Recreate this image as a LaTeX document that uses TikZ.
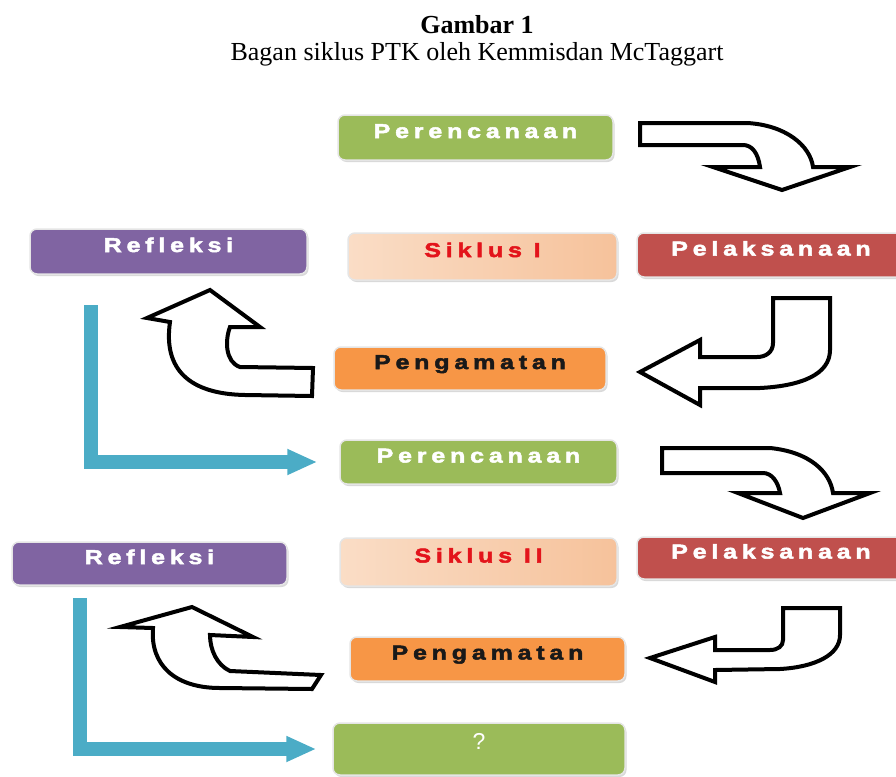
\documentclass[tikz,border=0pt]{standalone}
\usepackage{fontspec}
\setmainfont{Liberation Serif}
\newfontfamily\btnfont[LetterSpace=24,FakeBold=2.5,FakeStretch=1.25]{Liberation Sans}
\newfontfamily\polos{Liberation Sans}
\usepackage{tikz}
\usetikzlibrary{positioning,shadows,arrows.meta}

\definecolor{hijau}{HTML}{9BBB59}
\definecolor{ungu}{HTML}{8064A2}
\definecolor{merah}{HTML}{C0504D}
\definecolor{oranye}{HTML}{F79646}
\definecolor{birul}{HTML}{4BACC6}
\definecolor{krem}{HTML}{FADDC6}
\definecolor{krem2}{HTML}{F6C29B}
\definecolor{teksmerah}{HTML}{E3141B}

\tikzset{
  kotak/.style={rounded corners=7pt, minimum width=275pt, minimum height=45pt, inner sep=0pt,
    draw=black!10, line width=1.5pt, text=white, text height=15pt, text depth=14pt,
    drop shadow={shadow xshift=1.5pt, shadow yshift=-2pt, opacity=.3},
    font=\btnfont\bfseries\fontsize{20}{20}\selectfont},
  panah/.style={draw=black, fill=white, line width=4pt, line join=miter},
  biru/.style={draw=birul, line width=14pt, -{Triangle[length=30pt,width=24pt]}}
}

\begin{document}
\begin{tikzpicture}[x=1pt,y=-1pt]
  \useasboundingbox (0,0) rectangle (896,776);

  \node[anchor=base, font=\fontsize{26}{30}\selectfont\bfseries] (judul) at (477,34) {Gambar 1};
  \node[anchor=base, font=\fontsize{26}{30}\selectfont] (sub) at (477,60) {Bagan siklus PTK oleh Kemmisdan McTaggart};

  % siklus I
  \node[kotak, fill=hijau] (p1) at (475.5,137.5) {Perencanaan};
  \node[kotak, fill=ungu, minimum width=277pt] (r1) at (168.5,251.5) {Refleksi};
  \node[kotak, left color=krem, right color=krem2, text=teksmerah, minimum width=269pt, minimum height=47pt] (s1) at (482.5,256.5) {Siklus I};
  \node[kotak, fill=merah, minimum width=268pt, minimum height=44pt] (l1) at (771,255) {Pelaksanaan};
  \node[kotak, fill=oranye, text=black!90, minimum width=272pt, minimum height=43pt] (g1) at (470,368.5) {Pengamatan};

  % siklus II
  \node[kotak, fill=hijau, minimum width=277pt, minimum height=44pt] (p2) at (478.5,462) {Perencanaan};
  \node[kotak, fill=ungu, minimum height=43pt] (r2) at (149.5,563.5) {Refleksi};
  \node[kotak, left color=krem, right color=krem2, text=teksmerah, minimum width=277pt, minimum height=48pt] (s2) at (478.5,562) {Siklus II};
  \node[kotak, fill=merah, minimum width=268pt, minimum height=42pt] (l2) at (771,558) {Pelaksanaan};
  \node[kotak, fill=oranye, text=black!90, minimum height=44pt] (g2) at (487.5,659) {Pengamatan};
  \node[kotak, fill=hijau, minimum width=292pt, minimum height=52pt, font=\polos\fontsize{23}{23}\selectfont] (q) at (479,749) {?};

  % panah blok
  \draw[panah] (640,123) -- (747,123) .. controls (785,125) and (810,145) .. (813,167) -- (850,167)
    -- (782,190) -- (713,167) -- (760,167) .. controls (758,153) and (752,145) .. (743,145) -- (640,145) -- cycle;
  \draw[panah] (773,298) -- (773,343) .. controls (773,352) and (766,357) .. (757,357) -- (700,357) -- (700,340)
    -- (640,372) -- (700,405) -- (700,388) -- (760,388) .. controls (800,386) and (830,375) .. (830,350) -- (830,298) -- cycle;
  \draw[panah] (313,368) -- (240,367) .. controls (225,362) and (225,340) .. (230,327) -- (260,327)
    -- (210,290) -- (147,318) -- (170,322) .. controls (163,370) and (190,394) .. (245,395) -- (312,396) -- cycle;

  \draw[panah] (662,448) -- (770,448) .. controls (810,452) and (830,472) .. (833,493) -- (870,493)
    -- (803,518) -- (738,493) -- (780,493) .. controls (778,482) and (772,473) .. (763,473) -- (662,473) -- cycle;
  \draw[panah] (783,608) -- (783,640) .. controls (783,646) and (778,650) .. (770,650) -- (715,650) -- (715,637)
    -- (650,658) -- (715,682) -- (715,670) -- (780,669) .. controls (815,667) and (840,655) .. (840,635) -- (840,608) -- cycle;
  \draw[panah] (321,675) -- (230,671) .. controls (217,665) and (210,650) .. (210,635) -- (253,637)
    -- (192,607) -- (120,627) -- (153,628) .. controls (150,665) and (175,688) .. (220,688) -- (312,689) -- cycle;

  % garis biru
  \coordinate (a1) at (91,305);
  \coordinate (a2) at (80,598);
  \draw[biru] (a1) |- ([xshift=-22pt]p2.west);
  \draw[biru] (a2) |- ([xshift=-16pt]q.west);
\end{tikzpicture}
\end{document}
